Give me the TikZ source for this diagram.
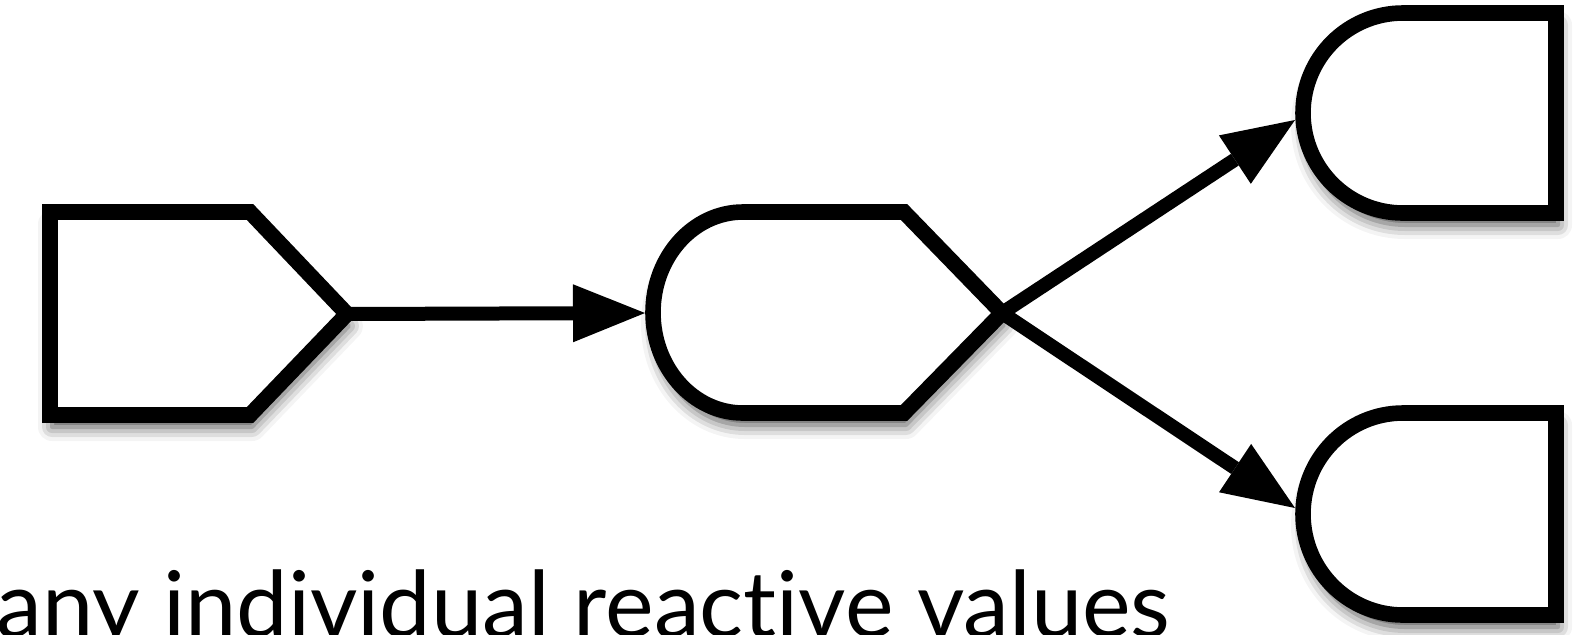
\documentclass[tikz,border=0pt]{standalone}
\usepackage{fontspec}
\newfontfamily\lato[RawFeature={-liga;-dlig}]{Lato}
\usetikzlibrary{arrows.meta,shadows.blur}
\tikzset{
  shp/.style={draw=black, line width=7.8pt, fill=white, line join=miter,
    blur shadow={shadow xshift=1pt, shadow yshift=-6pt, shadow blur radius=7pt, shadow opacity=70}},
  conn/.style={draw=black, line width=7pt, -{Triangle[length=36pt,width=29pt,line width=0pt]}},
  caption/.style={anchor=base west, inner sep=0pt, font=\lato\fontsize{46}{55}\selectfont}
}
\begin{document}
\begin{tikzpicture}[x=0.5pt,y=-0.5pt]
\useasboundingbox (0,0) rectangle (1589,634);
\clip (0,0) rectangle (1589,634);
% shapes
\path[shp] (50,212) -- (250,212) -- (347,314) -- (250,415) -- (50,415) -- cycle;
\path[shp] (743,212) -- (904,212) -- (1002,313) -- (904,413) -- (743,413)
   arc[start angle=270, end angle=90, x radius=45pt, y radius=50.25pt] -- cycle;
\path[shp] (1556,13) -- (1556,213) -- (1403,213)
   arc[start angle=270, end angle=90, x radius=50pt, y radius=50pt] -- cycle;
\path[shp] (1556,413) -- (1556,615) -- (1403,615)
   arc[start angle=270, end angle=90, x radius=50pt, y radius=50.5pt] -- cycle;
% connection points
\coordinate (srcTip) at (347,314);
\coordinate (midIn) at (645,313);
\coordinate (midTip) at (1002,313);
\coordinate (topIn) at (1295,120);
\coordinate (botIn) at (1295,508);
\draw[conn] (srcTip) -- (midIn);
\draw[conn] (midTip) -- (topIn);
\draw[conn] (midTip) -- (botIn);
\node[caption] (cap) at (-4,637) {any individual reactive values};
\end{tikzpicture}
\end{document}
